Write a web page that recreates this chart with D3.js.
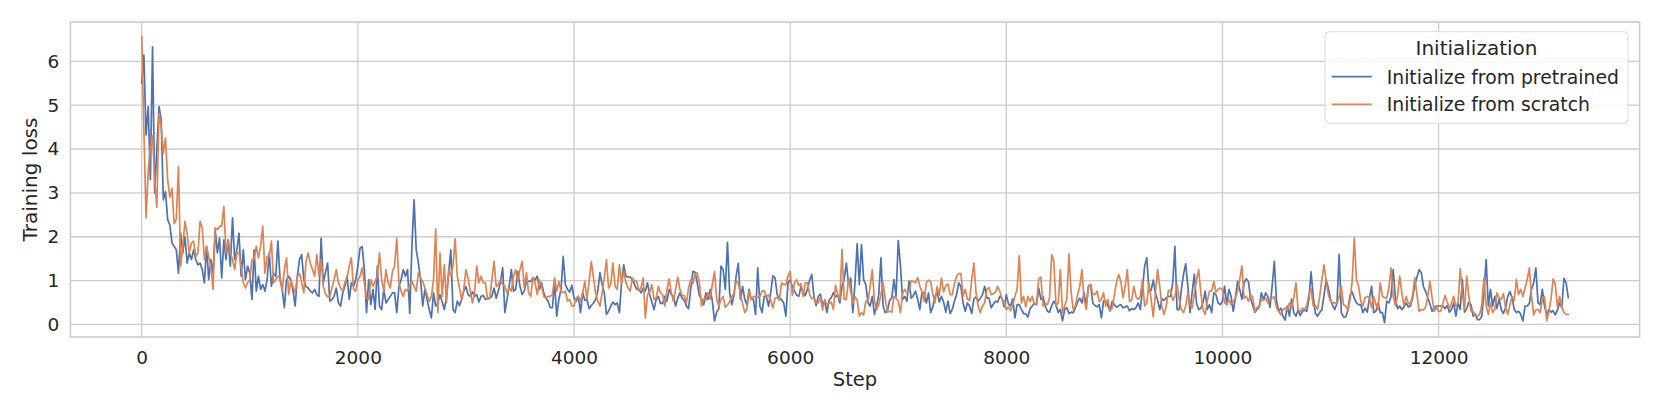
<!DOCTYPE html>
<html><head><meta charset="utf-8">
<script src="https://cdn.jsdelivr.net/npm/d3@7"></script>
<style>html,body{margin:0;padding:0;background:#fff;} svg{display:block;font-family:"DejaVu Sans",sans-serif;}</style>
</head><body><svg id="c" width="1661" height="415"></svg>
<script>
const STEP_INTERVAL = 20;
const pretrainedLoss = [
5.5,6.14,4.32,4.97,3.3,6.33,3.0,4.0,4.97,4.66,
2.84,3.03,2.39,2.27,1.86,1.78,1.7,1.17,2.08,1.63,
2.0,1.4,1.63,1.48,1.7,1.48,1.36,1.4,1.25,0.95,
1.78,1.02,1.48,1.17,2.16,1.63,1.97,1.06,1.93,1.48,
1.93,1.33,2.43,1.48,1.7,2.08,1.1,1.7,1.02,1.33,
1.17,0.57,1.7,0.76,1.1,0.8,0.91,0.76,1.02,1.63,
0.87,1.17,1.1,1.9,
1.02,0.8,0.38,1.02,1.1,1.02,0.76,0.42,1.1,1.48,
1.59,1.02,0.87,0.83,0.76,0.72,0.8,0.68,0.64,1.97,
0.95,1.18,1.4,0.53,0.57,0.64,0.83,0.49,0.42,0.72,
0.87,1.1,0.57,0.95,0.87,1.02,1.33,1.74,1.77,1.25,
0.27,1.02,0.45,0.8,0.34,1.33,0.42,0.34,0.8,0.49,
0.57,0.64,0.72,0.72,0.27,0.87,1.02,1.25,1.1,1.25,
0.25,1.78,2.84,1.7,1.4,1.02,0.42,0.8,0.57,
0.34,0.15,0.72,0.42,0.49,0.68,0.51,0.34,0.64,1.18,
1.7,0.34,0.27,0.53,0.43,0.57,0.76,0.86,0.68,0.64,
0.74,0.64,0.68,0.51,0.64,0.66,0.57,0.6,0.6,0.64,
0.83,0.6,0.76,0.98,1.29,0.27,0.57,0.87,1.25,0.76,
0.8,1.21,0.87,0.68,0.76,0.98,0.98,0.98,1.06,1.02,
1.1,0.8,0.95,0.72,0.6,0.53,0.38,0.38,0.95,0.19,
0.57,0.8,1.55,0.91,0.8,0.74,0.89,
0.6,0.53,0.64,0.27,0.72,0.55,0.57,0.36,0.43,0.49,
0.57,0.76,1.18,0.91,0.72,0.23,0.3,0.42,0.51,0.45,
0.49,0.27,0.95,1.36,1.1,1.08,1.08,1.02,0.91,0.8,
0.8,0.72,0.83,0.76,0.95,0.68,0.51,0.34,0.57,0.64,
0.48,0.48,0.64,0.53,0.8,0.68,0.64,0.42,0.6,0.72,
0.6,0.55,0.42,0.36,0.8,1.21,1.19,0.95,0.66,0.57,
0.45,0.72,0.57,0.8,0.53,0.08,0.28,0.36,
1.33,1.25,0.8,1.87,0.72,0.45,0.66,1.1,1.39,0.57,
0.87,0.57,0.45,0.8,0.57,0.57,0.23,1.29,0.42,0.27,
0.64,0.64,0.42,0.72,1.11,1.06,0.68,0.6,0.57,0.49,
0.19,0.95,1.02,0.86,0.76,0.67,0.64,0.87,0.74,0.66,
0.8,1.01,1.14,0.64,0.43,0.64,0.69,0.45,0.53,0.27,
0.55,0.61,0.72,0.63,0.67,0.49,0.87,1.04,1.4,0.93,
1.06,0.27,0.95,1.84,0.91,1.82,1.02,
0.91,0.49,0.42,0.64,0.23,0.42,0.68,1.52,0.42,0.27,
0.3,0.55,0.6,1.02,0.64,1.91,1.36,0.57,0.64,0.53,
0.98,0.6,0.66,0.76,0.57,0.34,0.74,0.71,0.49,0.72,
0.27,0.4,0.64,0.74,0.51,0.64,0.51,0.28,0.53,0.25,
0.34,0.53,0.68,0.95,0.86,0.49,0.3,0.49,0.42,0.25,
0.58,0.63,0.53,0.6,0.68,0.87,0.6,0.6,0.38,0.46,
0.53,0.51,0.64,0.6,0.4,0.68,0.47,
0.42,0.59,0.15,0.45,0.45,0.34,0.25,0.24,0.17,0.36,
0.42,0.48,0.45,0.83,0.57,0.64,0.42,0.3,0.28,0.43,
0.53,0.45,0.27,0.34,0.08,0.34,0.38,0.25,0.28,0.27,
0.38,0.51,0.6,0.49,0.72,0.42,0.87,0.91,0.49,0.43,
0.4,0.45,0.15,0.53,0.53,0.42,0.31,0.53,0.45,0.39,
0.43,0.45,0.38,0.4,0.42,0.31,0.36,0.34,0.38,0.49,
0.34,0.8,1.33,1.52,0.76,0.78,1.01,
0.71,0.55,0.34,0.58,0.55,0.61,0.64,0.64,0.95,1.78,
0.34,0.34,0.8,1.14,1.38,0.87,0.27,0.74,1.14,0.49,
0.34,0.37,0.49,0.76,0.34,0.45,0.27,0.72,0.68,0.49,
0.45,0.53,0.87,0.45,0.8,0.64,0.3,0.6,0.98,0.8,
0.57,0.95,1.04,0.98,0.6,0.43,0.28,0.34,0.4,0.72,
0.57,0.72,0.64,0.39,0.87,1.44,0.55,0.3,0.37,0.19,
0.1,0.42,0.19,0.58,0.27,0.19,0.33,
0.2,0.3,0.33,0.3,0.57,1.2,0.63,0.25,0.19,0.27,
0.34,0.67,1.01,0.83,0.57,0.43,0.34,0.49,1.6,0.27,
0.17,0.17,0.31,0.66,0.74,0.6,0.49,0.45,0.45,0.27,
0.37,0.28,0.6,0.87,0.27,0.3,0.49,0.27,0.27,0.04,
0.53,0.49,0.64,1.25,0.6,0.36,0.42,0.34,0.4,0.49,
0.4,0.42,0.61,0.9,1.08,1.25,1.18,0.86,0.75,0.61,
0.46,0.3,0.39,0.42,0.42,0.42,0.42,
0.36,0.43,0.28,0.34,0.49,0.19,0.49,0.34,1.02,0.28,
0.36,0.51,0.45,0.19,0.24,0.11,0.11,0.19,0.72,1.48,
0.42,0.8,0.42,0.64,0.36,0.58,0.34,0.25,0.38,0.64,
0.75,0.61,0.34,0.27,0.3,0.23,0.08,0.42,0.42,0.48,
0.8,0.95,1.29,0.49,0.45,0.8,0.42,0.22,0.34,0.28,
0.31,0.22,0.33,0.49,0.38,1.05,0.95,0.61
];
const scratchLoss = [
6.57,4.43,2.43,3.5,4.06,4.3,3.3,2.67,4.81,4.5,
3.9,4.25,3.3,2.9,3.1,2.3,2.4,3.6,1.33,1.78,
2.35,2.08,1.63,1.86,1.9,1.55,1.63,2.35,2.2,1.48,
1.78,1.55,1.33,0.8,2.2,2.16,2.24,2.24,2.69,1.63,
1.93,1.63,1.48,1.25,1.63,1.63,1.33,0.95,0.83,0.95,
1.02,1.48,1.48,1.78,1.52,1.78,2.24,1.17,1.55,1.55,
1.9,0.95,1.02,1.1,
1.1,0.76,1.25,1.52,0.68,1.0,0.86,0.72,1.1,1.16,
0.95,0.72,1.44,1.63,1.4,1.25,1.1,1.59,1.1,1.48,
0.87,0.7,0.63,0.64,0.83,1.02,1.25,0.95,0.83,0.76,
0.95,1.06,1.33,1.52,0.8,0.76,1.02,1.1,1.29,0.95,
0.6,0.57,1.02,0.87,0.98,1.1,1.63,1.02,0.76,1.25,
0.95,0.83,1.21,1.33,1.97,0.95,0.76,0.64,0.8,0.76,
0.91,0.98,0.87,0.76,1.18,1.06,0.98,0.83,0.68,
0.53,0.64,1.02,2.18,0.27,1.63,0.64,1.36,0.49,1.25,
1.1,1.33,1.95,1.1,0.83,0.57,0.8,1.25,1.06,0.76,
0.49,0.72,1.33,0.95,1.1,0.95,0.95,0.57,0.6,1.02,
1.44,0.87,0.91,1.02,0.91,0.87,0.72,0.83,0.76,1.1,
1.25,0.98,1.25,1.44,0.83,1.18,0.72,0.64,1.08,0.95,
0.68,1.02,0.87,0.64,0.6,0.64,0.64,0.68,1.06,0.76,
0.98,0.76,0.72,0.76,0.53,0.57,0.42,
0.42,0.6,0.64,0.53,0.72,0.98,0.57,0.98,1.44,1.06,
0.72,0.53,0.42,0.72,1.06,1.48,0.83,0.91,1.4,0.87,
0.8,1.36,0.95,1.21,0.96,0.83,0.76,1.06,0.98,0.98,
0.78,0.83,1.06,0.15,0.68,0.74,0.91,0.57,0.6,0.87,
0.72,0.68,0.42,0.8,1.04,0.72,0.53,0.8,1.08,0.8,
0.66,0.66,0.49,0.83,1.02,0.93,1.14,1.18,0.95,0.42,
0.58,0.55,0.72,0.58,0.91,1.21,0.57,0.42,
0.57,0.64,0.39,0.45,0.51,0.64,0.7,0.98,0.95,0.68,
0.47,0.27,0.34,0.76,0.57,0.64,0.63,0.62,0.64,0.76,
0.77,0.64,0.67,0.55,0.38,0.59,0.62,0.55,0.95,0.91,
0.91,1.1,1.21,0.66,0.95,1.02,0.89,0.93,0.64,0.95,
0.95,0.68,0.59,0.6,0.49,0.49,0.62,0.33,0.57,0.45,
0.48,0.51,0.34,0.89,0.68,0.57,1.71,0.57,0.57,1.04,
0.76,0.49,0.63,0.55,0.19,0.27,0.22,
0.53,0.53,0.87,1.25,0.53,0.34,0.45,0.68,0.95,0.57,
0.28,0.3,0.28,0.64,0.6,0.53,0.27,0.7,0.8,0.72,
0.76,1.0,0.98,0.95,1.07,0.87,0.74,0.53,0.95,1.01,
0.98,0.68,0.49,0.87,0.66,1.06,0.74,0.89,0.92,0.68,
0.68,0.93,1.1,1.16,1.16,0.64,0.8,0.58,0.55,1.02,
1.4,0.72,0.42,0.27,0.42,0.49,0.8,0.84,0.68,0.7,
0.74,0.87,0.76,0.57,0.49,0.34,0.4,
0.31,0.45,0.64,0.8,1.57,0.49,0.64,0.4,0.64,0.52,
0.64,0.45,0.49,1.04,1.08,0.42,0.48,0.45,0.6,1.59,
1.44,0.42,0.49,1.25,0.27,0.42,0.58,1.61,0.72,0.33,
0.42,0.68,0.87,1.25,0.57,0.34,0.86,0.91,0.7,0.68,
0.76,0.52,0.57,0.72,0.42,0.57,0.3,0.38,0.68,0.96,
1.14,0.98,0.61,0.87,1.25,0.52,0.55,0.87,0.64,0.57,
0.64,1.02,0.42,0.49,0.95,0.57,0.17,
0.72,1.25,0.87,0.4,0.23,0.42,0.78,0.78,0.55,0.64,
0.91,0.57,0.34,0.27,0.42,0.72,0.45,0.38,0.7,1.02,
1.25,0.72,0.34,0.23,0.53,0.76,0.76,0.98,0.74,0.8,
0.83,0.8,0.49,0.45,0.57,0.45,0.52,0.6,0.76,1.02,
1.33,0.6,0.64,0.53,0.68,0.63,0.3,0.39,0.4,0.57,
0.55,0.6,0.49,0.58,0.6,0.63,0.39,0.3,0.22,0.34,
0.37,0.33,0.49,0.39,0.61,0.95,0.33,
0.3,0.37,0.35,0.43,0.68,0.81,0.42,0.43,0.34,0.64,
1.02,1.36,0.98,0.68,0.53,0.49,0.49,0.48,0.63,0.87,
0.45,0.42,0.33,0.55,0.98,1.97,1.02,0.87,0.53,0.42,
0.61,0.64,0.61,0.38,0.64,0.45,0.34,0.95,0.64,0.61,
0.6,0.83,1.29,0.64,0.43,0.64,1.1,0.72,0.43,0.64,
0.48,0.46,0.68,1.06,0.68,0.3,0.34,0.33,0.4,0.64,
0.98,0.61,0.3,0.4,0.3,0.3,0.48,
0.66,0.51,0.36,0.49,0.64,0.42,0.49,1.27,0.7,0.34,
1.1,0.64,0.3,0.3,0.19,0.19,0.23,0.45,1.06,0.42,
0.23,0.49,0.27,0.34,0.72,0.61,0.57,0.7,0.38,0.23,
0.45,0.63,0.55,1.02,0.68,0.8,0.64,0.83,1.02,1.29,
0.64,0.22,0.33,0.34,0.27,0.57,0.64,0.08,0.28,0.58,
1.04,0.91,0.4,0.64,0.4,0.27,0.23,0.23
];
const steps = pretrainedLoss.map((_, i) => i * STEP_INTERVAL);
const xTicks = [0, 2000, 4000, 6000, 8000, 10000, 12000];
const yTicks = [0, 1, 2, 3, 4, 5, 6];
const seriesNames = ["Initialize from pretrained", "Initialize from scratch"];
const seriesColors = ["#4c72b0", "#dd8452"];
const legendTitle = "Initialization";
const xLabel = "Step";
const yLabel = "Training loss";

const svg = d3.select("#c");
const L = 70.4, R = 1639.6, T = 22, B = 337;
const textColor = "#262626", gridColor = "#cccccc";

const xMin = d3.min(steps), xMax = d3.max(steps);
const xm = (xMax - xMin) * 0.05;
const x = d3.scaleLinear().domain([xMin - xm, xMax + xm]).range([L, R]);
const allV = pretrainedLoss.concat(scratchLoss);
const yMin = d3.min(allV), yMax = d3.max(allV);
const ym = (yMax - yMin) * 0.05;
const y = d3.scaleLinear().domain([yMin - ym, yMax + ym]).range([B, T]);

// grid
const g = svg.append("g");
g.selectAll("line.xg").data(xTicks).join("line")
  .attr("x1", d => x(d)).attr("x2", d => x(d)).attr("y1", T).attr("y2", B)
  .attr("stroke", gridColor).attr("stroke-width", 1.3);
g.selectAll("line.yg").data(yTicks).join("line")
  .attr("y1", d => y(d)).attr("y2", d => y(d)).attr("x1", L).attr("x2", R)
  .attr("stroke", gridColor).attr("stroke-width", 1.3);

// lines
const series = [pretrainedLoss, scratchLoss];
const line = d3.line().x((d, i) => x(steps[i])).y(d => y(d));
series.forEach((s, k) => {
  svg.append("path").datum(s).attr("d", line)
    .attr("fill", "none").attr("stroke", seriesColors[k])
    .attr("stroke-width", 1.7).attr("stroke-linejoin", "round").attr("stroke-linecap", "round");
});

// spines
svg.append("rect").attr("x", L).attr("y", T).attr("width", R - L).attr("height", B - T)
  .attr("fill", "none").attr("stroke", gridColor).attr("stroke-width", 1.6);

// axes
const xAxis = svg.append("g").attr("transform", `translate(0,${B})`)
  .call(d3.axisBottom(x).tickValues(xTicks).tickSize(0).tickPadding(14).tickFormat(d3.format("d")));
const yAxis = svg.append("g").attr("transform", `translate(${L},0)`)
  .call(d3.axisLeft(y).tickValues(yTicks).tickSize(0).tickPadding(11).tickFormat(d3.format("d")));
[xAxis, yAxis].forEach(a => {
  a.select(".domain").remove();
  a.selectAll("text").attr("fill", textColor).attr("font-size", 18.5).attr("font-family", "DejaVu Sans");
});

svg.append("text").attr("x", (L + R) / 2).attr("y", 386).attr("text-anchor", "middle")
  .attr("font-size", 19.5).attr("fill", textColor).text(xLabel);
svg.append("text").attr("transform", `translate(36.5,${(T + B) / 2}) rotate(-90)`)
  .attr("text-anchor", "middle").attr("font-size", 20).attr("fill", textColor).text(yLabel);

// legend
const lg = svg.append("g");
lg.append("rect").attr("x", 1325).attr("y", 31.7).attr("width", 303).attr("height", 91.6)
  .attr("rx", 4).attr("fill", "white").attr("fill-opacity", 0.8).attr("stroke", "#d9d9d9").attr("stroke-width", 1);
lg.append("text").attr("x", 1476.5).attr("y", 55).attr("text-anchor", "middle")
  .attr("font-size", 20).attr("fill", textColor).text(legendTitle);
seriesNames.forEach((n, i) => {
  const yy = 76.7 + i * 27.6;
  lg.append("line").attr("x1", 1331.7).attr("x2", 1371.7).attr("y1", yy).attr("y2", yy)
    .attr("stroke", seriesColors[i]).attr("stroke-width", 1.7);
  lg.append("text").attr("x", 1386.7).attr("y", yy + 7).attr("font-size", 18.8)
    .attr("fill", textColor).text(n);
});
</script></body></html>
